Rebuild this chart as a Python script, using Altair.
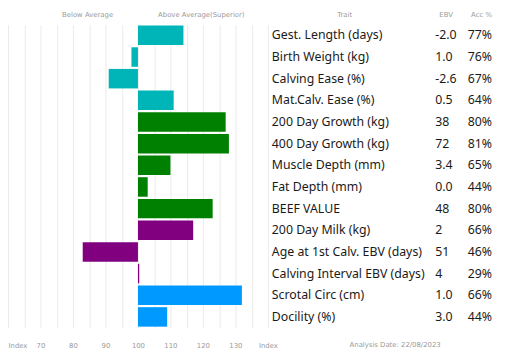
import altair as alt
import pandas as pd

traits = ["Gest. Length (days)", "Birth Weight (kg)", "Calving Ease (%)", "Mat.Calv. Ease (%)",
          "200 Day Growth (kg)", "400 Day Growth (kg)", "Muscle Depth (mm)", "Fat Depth (mm)",
          "BEEF VALUE", "200 Day Milk (kg)", "Age at 1st Calv. EBV (days)",
          "Calving Interval EBV (days)", "Scrotal Circ (cm)", "Docility (%)"]
index_vals = [114, 98, 91, 111, 127, 128, 110, 103, 123, 117, 83, 100.4, 132, 109]
ebv = ["-2.0", "1.0", "-2.6", "0.5", "38", "72", "3.4", "0.0", "48", "2", "51", "4", "1.0", "3.0"]
acc = ["77%", "76%", "67%", "64%", "80%", "81%", "65%", "44%", "80%", "66%", "46%", "29%", "66%", "44%"]
groups = ["Calving"] * 4 + ["Growth"] * 5 + ["Maternal"] * 3 + ["Other"] * 2
group_names = ["Calving", "Growth", "Maternal", "Other"]
group_colors = ["#00b5b8", "#008000", "#800080", "#0099ff"]

side_labels = ["Below Average", "Above Average(Superior)"]
side_pos = [84.5, 119.5]
col_headers = ["Trait", "EBV", "Acc %"]
analysis_date = "Analysis Date: 22/08/2023"

df = pd.DataFrame({"trait": traits, "index": index_vals, "base": [100] * len(traits),
                   "ebv": ebv, "acc": acc, "group": groups})

W, H = 514, 308

yenc = alt.Y("trait:N", sort=traits, axis=None,
             scale=alt.Scale(paddingInner=0.1, paddingOuter=0.05))

xscale = alt.Scale(domain=[60, 140], range=[0, 264], nice=False, zero=False)
xaxis = alt.Axis(values=list(range(60, 145, 5)),
                 labelExpr="datum.value == 60 || datum.value == 140 ? 'Index' : (datum.value % 10 == 0 ? datum.label : '')",
                 labelAlign={"expr": "datum.value == 60 ? 'left' : 'center'"},
                 grid=True, gridColor="#ebebeb", gridWidth=1, domain=False, ticks=False, tickSize=0,
                 labelPadding=14, labelFont="DejaVu Sans", labelFontSize=7, labelColor="#9a9a9a",
                 labelFlush=False, labelOverlap=False, title=None)

bars = alt.Chart(df).mark_bar().encode(
    x=alt.X("index:Q", scale=xscale, axis=xaxis),
    x2="base:Q",
    y=yenc,
    color=alt.Color("group:N", scale=alt.Scale(domain=group_names, range=group_colors), legend=None),
)

tfont = "Noto Sans"
tsize = 12.5
tcolor = "#1a1a1a"

trait_txt = alt.Chart(df).mark_text(align="left", baseline="middle", font=tfont, fontSize=tsize,
                                    color=tcolor).encode(x=alt.value(268), y=yenc, text="trait:N")
ebv_txt = alt.Chart(df).mark_text(align="left", baseline="middle", font=tfont, fontSize=tsize,
                                  color=tcolor).encode(x=alt.value(434), y=yenc, text="ebv:N")
acc_txt = alt.Chart(df).mark_text(align="left", baseline="middle", font=tfont, fontSize=tsize,
                                  color=tcolor).encode(x=alt.value(467), y=yenc, text="acc:N")

side_df = pd.DataFrame({"label": side_labels, "pos": side_pos})
side_txt = alt.Chart(side_df).mark_text(align="center", baseline="middle", font="DejaVu Sans",
                                        fontSize=7, color="#9a9a9a").encode(
    x=alt.X("pos:Q", scale=xscale, axis=xaxis), y=alt.value(-9.5), text="label:N")

hdr_layers = []
for lbl, xp in zip(col_headers, [342, 445, 481]):
    hdr_layers.append(
        alt.Chart(pd.DataFrame({"h": [lbl]})).mark_text(align="center", baseline="middle",
                                                         font="DejaVu Sans", fontSize=7,
                                                         color="#9a9a9a").encode(
            x=alt.value(xp), y=alt.value(-9.5), text="h:N"))

date_txt = alt.Chart(pd.DataFrame({"d": [analysis_date]})).mark_text(
    align="left", baseline="middle", font="DejaVu Sans", fontSize=7, color="#9a9a9a").encode(
    x=alt.value(347), y=alt.value(H + 18), text="d:N")

chart = alt.layer(bars, trait_txt, ebv_txt, acc_txt, side_txt, *hdr_layers, date_txt).properties(
    width=W, height=H,
    autosize=alt.AutoSizeParams(type="none"),
    padding={"left": 0, "top": 14, "right": 0, "bottom": 32},
).configure_view(stroke=None)

chart.save("out.html", embed_options={"renderer": "svg", "actions": False})
